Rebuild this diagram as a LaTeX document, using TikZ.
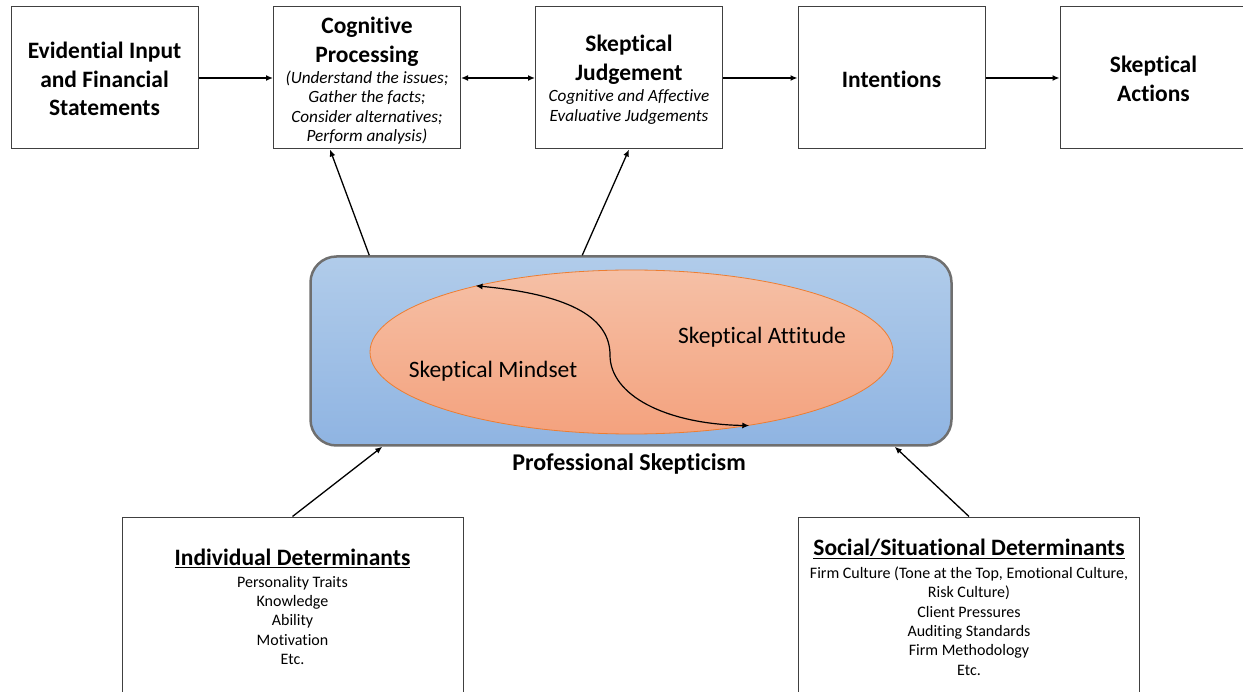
\documentclass[tikz,border=0pt]{standalone}
\usepackage{fontspec}
\setmainfont{Carlito}[Ligatures=NoCommon]
\usetikzlibrary{arrows.meta,shapes.geometric}
\definecolor{boxline}{HTML}{404040}
\definecolor{psline}{HTML}{6F6F6F}
\definecolor{pstop}{HTML}{B1CCEA}
\definecolor{psbot}{HTML}{8FB4E2}
\definecolor{elltop}{HTML}{F5C0A6}
\definecolor{ellbot}{HTML}{F4A27E}
\definecolor{ellline}{HTML}{ED7D31}
\tikzset{
  stagebox/.style={draw=boxline, line width=1pt, fill=white, minimum width=187pt, minimum height=142pt, inner sep=0pt},
  detbox/.style={draw=boxline, line width=1pt, fill=white, minimum width=341pt, minimum height=190pt, inner sep=0pt},
  title/.style={align=center, font=\bfseries\fontsize{23.5}{28.5}\selectfont, inner sep=0pt},
  note/.style={align=center, font=\itshape\fontsize{17.2}{19.5}\selectfont, inner sep=0pt},
  plain/.style={align=center, font=\fontsize{16}{19.3}\selectfont, inner sep=0pt},
  heading/.style={font=\bfseries\fontsize{23.5}{28}\selectfont, inner sep=0pt},
  inner/.style={font=\fontsize{23.5}{28}\selectfont, inner sep=0pt},
  arr/.style={line width=1.3pt, -{Latex[length=7pt,width=6pt]}},
  darr/.style={line width=1.3pt, {Latex[length=7pt,width=6pt]}-{Latex[length=7pt,width=6pt]}}
}
\begin{document}
\begin{tikzpicture}[x=1pt,y=-1pt]
\useasboundingbox (0,0) rectangle (1243,692);
\begin{scope}
\clip (0,0) rectangle (1243,692);

% process stages along the top
\node[stagebox] (evi) at (104.5,78) {};
\node[stagebox] (cog) at (367,78) {};
\node[stagebox] (jud) at (629,78) {};
\node[stagebox] (int) at (891.5,78) {};
\node[stagebox] (act) at (1153.5,78) {};

\node[title] (eviT) at (104.5,79) {Evidential Input\\and Financial\\Statements};
\node[title] (cogT) at (367,42) {Cognitive\\Processing};
\node[note] (cogN) at (367,107.5) {(Understand the issues;\\Gather the facts;\\Consider alternatives;\\Perform analysis)};
\node[title] (judT) at (629,60) {Skeptical\\Judgement};
\node[note] (judN) at (629,107) {Cognitive and Affective\\Evaluative Judgements};
\node[title] (intT) at (891.5,79) {Intentions};
\node[title] (actT) at (1153.5,79) {Skeptical\\Actions};

\draw[arr] (evi) -- (cog);
\draw[darr] (cog) -- (jud);
\draw[arr] (jud) -- (int);
\draw[arr] (int) -- (act);

% professional skepticism block
\node[draw=psline, line width=2.5pt, rounded corners=26pt, top color=pstop, bottom color=psbot,
      minimum width=641pt, minimum height=189pt] (ps) at (631,351) {};
\node[ellipse, draw=ellline, line width=0.8pt, top color=elltop, bottom color=ellbot,
      minimum width=523pt, minimum height=164pt, inner sep=0pt] (ell) at (631.5,352) {};
\node[inner] (att) at (762,337) {Skeptical Attitude};
\node[inner] (mind) at (493,371) {Skeptical Mindset};
\coordinate (mid) at (610,355);
\draw[darr, line width=1.2pt] (ell.157.5) .. controls (575,295) and (610,320) .. (mid)
      .. controls (610,395) and (665,424) .. (ell.-32.3);
\node[font=\bfseries\fontsize{24}{28}\selectfont, inner sep=0pt] (psT) at (629,464) {Professional Skepticism};

% links from the block to the stages
\coordinate (psA) at ([xshift=60pt]ps.north west);
\coordinate (psB) at ([xshift=273pt]ps.north west);
\coordinate (cogIn) at ([xshift=-37pt]cog.south);
\draw[arr] (psA) -- (cogIn);
\draw[arr] (psB) -- (jud.south);

% determinants
\node[detbox] (ind) at (292.5,612) {};
\node[detbox] (soc) at (969,612) {};
\node[heading] (indT) at (292.5,558) {\underline{Individual Determinants}};
\node[plain] (indL) at (292.5,620.5) {Personality Traits\\Knowledge\\Ability\\Motivation\\Etc.};
\node[heading] (socT) at (969,549) {\underline{Social/Situational Determinants}};
\node[plain] (socL) at (969,621) {Firm Culture (Tone at the Top, Emotional Culture,\\Risk Culture)\\Client Pressures\\Auditing Standards\\Firm Methodology\\Etc.};

\coordinate (psC) at ([xshift=73pt]ps.south west);
\coordinate (psD) at ([xshift=-58pt]ps.south east);
\draw[arr] (ind.north) -- (psC);
\draw[arr] (soc.north) -- (psD);
\end{scope}
\end{tikzpicture}
\end{document}
